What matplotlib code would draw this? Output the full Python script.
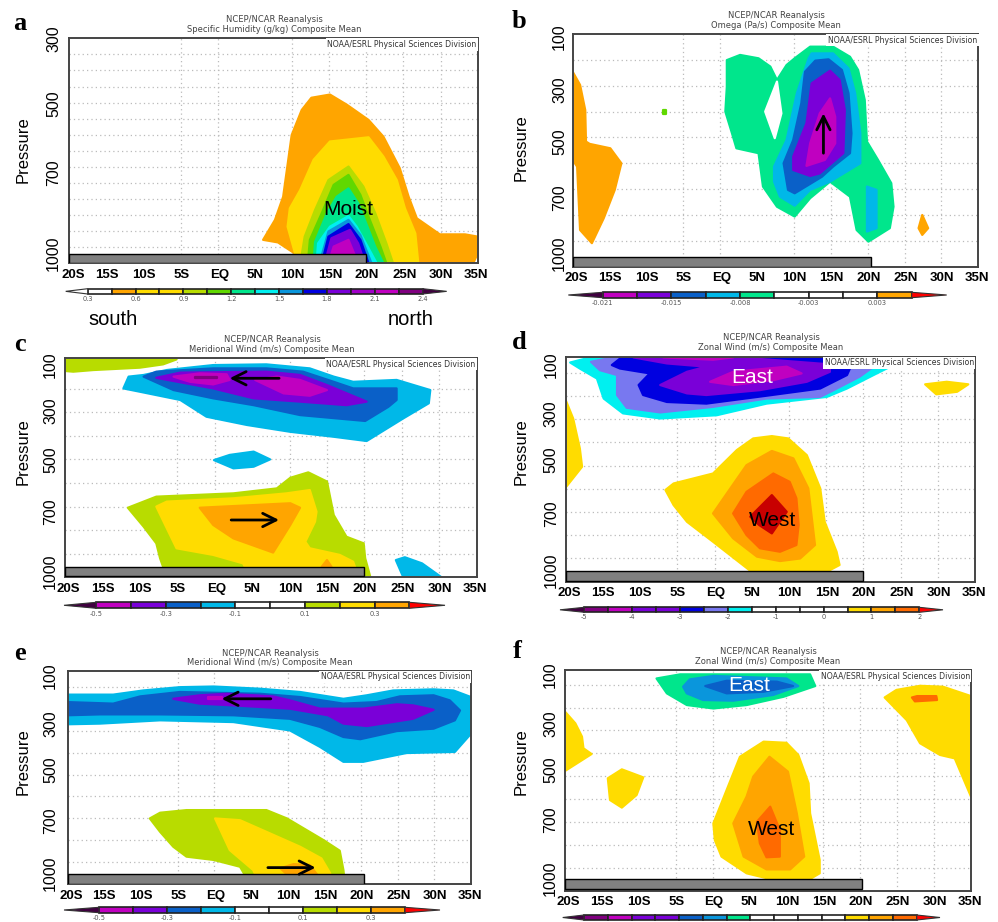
import numpy as np
import matplotlib
matplotlib.use('Agg')
import matplotlib.pyplot as plt

W, H = 998, 922

ORANGE = '#ffa500'
YELLOW = '#ffdc00'
YGREEN = '#b8dc00'
GREEN = '#60d800'
SPRING = '#00e68c'
CYAN = '#00f0f0'
SKY = '#00b8e8'
MIDBLUE = '#0a96dc'
DBLUE = '#0a60c8'
BLUE = '#0000e0'
PERI = '#7878f0'
PURPLE = '#7a00d8'
PURPLE2 = '#a000c8'
MAGENTA = '#c000c0'
DARKMAG = '#800080'
DORANGE = '#ff6a00'
DRED = '#c80000'
DPURPLE = '#400040'

lat_labels = ['20S', '15S', '10S', '5S', 'EQ', '5N', '10N', '15N', '20N', '25N', '30N', '35N']
lat_label_pos = [-19.5, -15, -10, -4.9, 0.2, 5, 10.1, 15.1, 20.1, 25.1, 30.1, 34.8]
lat_grid = [-15, -10, -5, 0, 5, 10, 15, 20, 25, 30]
p_labels_a = ['300', '500', '700', '1000']
p_labels = ['100', '300', '500', '700', '1000']

# contour outlines: (lat, hPa)
# panel a - specific humidity
a_orange = [(6.1,927),(7.7,865),(8.8,793),(9.95,601),(11.3,523),(12.6,485),(15.1,475),(17.4,507),(20.3,554),(22.3,606),(24.5,704),(25.7,793),(26.8,860),(29.9,910),(33.3,910),(35,917),(35,969),(34.4,1000),(10.4,1000),(10.4,970),(8.1,935)]
a_yellow = [(10.4,969),(9.4,886),(9.7,829),(11.1,772),(12.9,678),(15.1,621),(20.3,608),(22.3,668),(24.1,741),(25.2,829),(26.6,907),(27,1000),(10.4,1000)]
a_ygreen = [(11.3,974),(11.7,917),(13.1,834),(14.9,741),(17.6,699),(19.6,761),(21.2,844),(22.7,938),(23.6,1000),(11.3,1000)]
a_green = [(12.2,979),(12.4,927),(14,844),(15.6,756),(17.6,725),(19.2,787),(20.3,855),(21.9,948),(22.7,1000),(12.2,1000)]
a_spring = [(13.1,933),(14.7,844),(16,793),(17.6,767),(18.9,813),(19.8,865),(21.2,948),(22.3,1000),(12.9,1000)]
a_cyan = [(13.5,938),(15.1,886),(17.6,853),(18.7,886),(20.3,953),(21.4,1000),(13.3,1000)]
a_midblue = [(14.9,901),(17.6,865),(19.2,912),(20.7,1000),(13.7,1000)]
a_blue = [(14.9,917),(17.6,878),(19.2,927),(20.3,1000),(14,1000)]
a_purple = [(15.3,922),(17.8,896),(18.9,938),(19.8,1000),(14.4,1000)]
a_magenta = [(15.6,948),(17.6,927),(18.9,1000),(14.9,1000)]

# panel b - omega
b_orange1 = [(-20,246),(-19,297),(-18.3,394),(-18.2,516),(-17.7,525),(-14.9,542),(-13.4,600),(-14.3,703),(-15.8,813),(-17.4,909),(-19,858),(-19.4,613),(-20,587)]
b_orange2 = [(27.4,800),(28.2,851),(27.4,877),(26.9,851)]
b_dot = [(-7.7,395),(-7.3,395),(-7.3,408),(-7.7,408)]
b_spring = [(0.9,201),(2.7,181),(5.2,194),(6.8,226),(7.7,278),(9,220),(10.1,194),(12.2,149),(15.3,149),(17.6,188),(18.7,239),(19.6,355),(19.9,516),(21.4,587),(23.2,677),(23.5,768),(23,851),(20.1,903),(18.5,858),(17.6,729),(14.9,671),(12.2,735),(10.1,806),(7.7,768),(5.8,690),(5.2,561),(2.2,542),(1.6,484),(0.7,400),(0.9,304)]
b_hole = [(7.7,284),(6.1,400),(7.4,503),(8.3,407)]
b_sky = [(12,194),(12.4,175),(15.3,175),(17.4,233),(18.3,329),(19,484),(19,600),(14.9,671),(12.2,703),(10.1,764),(8.1,729),(7.3,671),(7.3,613),(9,510),(10.4,329)]
b_sky2 = [(19.9,690),(21.2,703),(21.2,851),(19.9,864)]
b_dblue = [(11.5,246),(12.9,203),(14.7,198),(16.5,239),(17.4,329),(17.8,484),(17.6,561),(15.3,613),(13.8,652),(10.1,716),(9.2,703),(8.6,600),(9.9,510),(11,368)]
b_purple = [(12.4,291),(14.9,242),(16.2,278),(16.9,394),(16.7,561),(13.5,639),(12.2,649),(9.9,626),(9.9,574),(11.7,445)]
b_magenta = [(14.9,349),(15.6,420),(15.6,523),(14.2,587),(11.7,610),(12.2,523),(13.5,407)]

# panel c - meridional wind
c_ygreen1 = [(-20,72),(-5.1,76),(-6.9,97),(-10,111),(-16.2,121),(-18.9,128),(-20,125)]
c_sky = [(-12.2,199),(-11.5,149),(-9.5,142),(-6.4,121),(-0.2,100),(6.9,97),(12.7,114),(15.9,149),(18.5,171),(24.3,163),(28.8,206),(28.6,262),(25.2,326),(20.3,422),(15.9,404),(10.1,383),(4.3,354),(-1.1,319),(-4.6,248),(-10,213)]
c_dblue = [(-9.5,149),(-7.8,128),(-0.2,114),(6.9,114),(11.8,128),(15.9,171),(18.5,199),(24.3,199),(24.3,248),(23.2,277),(20.1,337),(11.4,312),(5.2,270),(-0.2,241),(-5.5,206)]
c_purple = [(-7.8,154),(-4.6,132),(6.9,128),(11.4,142),(15,185),(20.3,255),(17.6,270),(11.4,255),(5.2,241),(-0.2,199),(-4.6,173)]
c_magenta1 = [(-5.5,149),(-2,135),(1.6,139),(2,163),(-0.2,182),(-3.3,171)]
c_magenta2 = [(5.4,163),(8.3,149),(11.4,163),(15,206),(12.7,230),(9.2,220)]
c_dark = [(-2.6,149),(0.3,149),(0.3,156),(-2.6,156)]
c_sky2 = [(-0.1,503),(2,481),(5.2,467),(7.4,500),(5.2,531),(2.5,538)]
c_sky3 = [(24.2,927),(25.4,915),(27.7,941),(30.3,1000),(25.2,1000)]
c_ygreen2 = [(-11.6,705),(-7.8,658),(2.5,644),(8.3,623),(10.1,578),(12.5,555),(15,594),(15.9,736),(17.6,828),(19.9,856),(20.1,919),(20.8,1000),(-6.4,1000),(-7.3,919),(-7.8,856),(-9.5,785)]
c_yellow = [(-7.8,700),(-6.4,679),(2.5,665),(9.6,644),(12.7,630),(13.6,722),(13.4,764),(12.1,849),(12.7,877),(16.7,905),(18.5,934),(19.2,1000),(4.7,1000),(3.8,941),(-0.2,905),(-5.1,877),(-6.4,792)]
c_orange = [(-2,705),(10.1,686),(11.4,705),(10.1,778),(7.8,895),(2.5,835),(-0.2,778)]
c_orange2 = [(14.3,955),(15,927),(15.6,955)]

# panel d - zonal wind
d_yellow1 = [(-20,218),(-19,297),(-18.1,426),(-17.8,505),(-20,594)]
d_yellow2 = [(28.3,150),(31.2,139),(34.1,150),(32.6,182),(29.8,193)]
d_cyan = [(-19.4,56),(-16.7,34),(24.7,34),(24.5,60),(21.8,103),(17.8,168),(15.1,204),(7,233),(0.3,283),(-7.3,297),(-12.3,275),(-14.9,211),(-15.8,125),(-18.1,82)]
d_peri = [(-16.6,53),(-13.6,34),(20.7,34),(21.8,64),(19.5,117),(16,175),(14.2,204),(7,211),(-0.2,247),(-7.3,271),(-11.8,251),(-13.1,196),(-13.1,110),(-15.4,89)]
d_blue = [(-13.8,67),(-12.5,34),(18,34),(18.4,67),(17.8,110),(14.2,168),(7,199),(-1.1,233),(-6.4,226),(-9.6,196),(-10.2,153),(-8.7,103),(-12.7,82)]
d_purple = [(-10.9,34),(3.4,34),(15.5,64),(15.5,96),(12.4,139),(6.1,175),(-1.1,196),(-3.7,189),(-7.3,153),(-3.7,96),(-1.1,74),(-6.4,60)]
d_magenta1 = [(-6.9,34),(2.5,34),(-0.2,44)]
d_magenta2 = [(-0.6,139),(2.5,96),(9.7,74),(11.7,103),(7.9,132),(2.5,153)]
d_yellow3 = [(-6.6,605),(-5.5,577),(-0.2,534),(3,433),(5.2,383),(7.7,373),(9.9,383),(12.4,455),(14.2,598),(14.8,742),(16.4,871),(16.8,928),(15.1,957),(4.8,953),(-0.2,828),(-3.7,742),(-5.5,670)]
d_orange = [(-0.2,706),(1.2,641),(4.3,498),(7.7,437),(10.6,469),(12.6,598),(13.5,842),(11.5,900),(8.8,911),(5.7,892),(2.5,813)]
d_dorange = [(2.5,706),(4.3,613),(7.9,534),(10.1,570),(11,641),(11.3,756),(11,842),(8.8,871),(6.1,856),(4.3,799)]
d_dred = [(4.8,720),(7.7,627),(9.7,699),(7.7,792),(6,756)]

# panel e - meridional wind
e_sky = [(-20,136),(-13.8,136),(-9.7,117),(-4.7,102),(-0.1,99),(6.2,109),(11.7,124),(17.6,155),(20.8,139),(24.4,117),(29.9,112),(32.6,117),(35,147),(35,314),(32.8,397),(26.2,402),(20.3,442),(17.6,442),(14.4,374),(10.3,299),(2.6,261),(-7.4,253),(-15.6,268),(-20,271)]
e_dblue = [(-20,170),(-13.8,177),(-10.1,144),(-4.7,124),(6.2,132),(11.7,147),(17.6,177),(22.1,170),(25.3,144),(29.9,139),(32.1,162),(33.5,208),(32.8,253),(29.9,291),(24.9,302),(19.9,339),(17.6,329),(14.4,283),(10.3,246),(2.6,230),(-7.4,226),(-15.6,226),(-20,230)]
e_purple = [(-5.6,155),(-2,139),(1.7,132),(8,144),(10.3,162),(14.4,200),(20.3,200),(24.9,180),(27.1,185),(29.9,205),(27.1,246),(20.8,279),(17.6,268),(15.5,230),(10.3,200),(2.6,185),(-2,177)]
e_magenta = [(-0.8,146),(1,146),(1,154),(-0.8,154)]
e_ygreen = [(-8.8,700),(-7.4,674),(-3.8,662),(7.1,662),(9.9,700),(14.9,799),(17.1,847),(17.6,935),(17.8,1000),(4.9,1000),(3.5,920),(-0.1,889),(-3.8,874),(-5.6,829),(-7.4,761)]
e_yellow = [(0.1,700),(3.5,708),(7.1,761),(11.7,829),(14.6,882),(15.8,950),(15.8,1000),(6.2,1000),(5.3,935),(2.1,844)]
e_orange = [(9,927),(10.8,908),(13,912),(14,955),(9.9,955)]

# panel f - zonal wind
f_yellow1 = [(-20,218),(-18.6,269),(-17.7,327),(-17.5,378),(-16.4,403),(-20,477)]
f_yellow2 = [(-14.2,509),(-12.3,470),(-9.4,505),(-10.3,582),(-12.3,637),(-13.9,604)]
f_yellow3 = [(23.3,156),(24.9,123),(28.1,105),(31.2,109),(35,150),(35,589),(32.8,422),(30.8,407),(28.1,356),(26.3,255)]
f_orange1 = [(27,156),(27.7,150),(30.3,150),(30.4,167),(27.4,173)]
f_spring = [(-7.6,73),(-4.4,55),(13.2,55),(13.9,106),(9.6,153),(4.6,189),(0.1,204),(-3.5,189),(-6.2,138)]
f_midblue = [(-4,109),(-3.1,77),(0.1,62),(10,73),(11.6,106),(8.2,145),(2.8,170),(-1.3,167),(-3.5,138)]
f_dblue = [(-1,106),(1.9,83),(8.7,87),(10.9,106),(6.9,131),(1.9,138)]
f_yellow4 = [(0.1,706),(1.9,560),(3.7,415),(6.9,349),(10,354),(11.6,407),(13,531),(13.2,662),(14.5,866),(14.5,924),(13.2,949),(7.8,949),(4.6,924),(1.2,851),(0.3,779)]
f_orange2 = [(2.8,706),(4.6,589),(5.5,502),(7.7,415),(10.2,480),(11.4,662),(12.4,851),(10.5,907),(7.3,907),(4.2,851)]
f_dorange = [(6,699),(7.8,633),(9.1,735),(9.1,851),(7.3,854),(6.4,793)]

fig = plt.figure(figsize=(W / 100, H / 100), dpi=100, facecolor='white')


def px_axes(x0, x1, y0, y1):
    return fig.add_axes([x0 / W, 1 - y1 / H, (x1 - x0) / W, (y1 - y0) / H])


def ftext(x, y, s, **kw):
    fig.text(x / W, 1 - y / H, s, ha='center', va='center', **kw)


def panel(box, ptop, grid_p, ylab, ylab_pos, pad, bands, bar):
    ax = px_axes(*box)
    ax.set_xlim(-20, 35)
    ax.set_ylim(1000, ptop)
    ax.set_axisbelow(True)
    ax.set_xticks(lat_label_pos, lat_labels, fontweight='bold', fontsize=9.5, family='Liberation Sans')
    ax.set_yticks(ylab_pos, ylab, rotation=90, va='center', fontsize=11.5, family='Liberation Sans')
    ax.set_xticks(lat_grid, minor=True)
    ax.set_yticks(grid_p, minor=True)
    ax.tick_params(which='both', length=0)
    ax.tick_params(axis='x', which='major', pad=4)
    ax.tick_params(axis='y', which='major', pad=pad)
    ax.grid(which='minor', ls=(0, (1, 2.5)), color='#bbbbbb', lw=0.9)
    for s in ax.spines.values():
        s.set_color('#444444')
        s.set_linewidth(1.4)
    for pts, col in bands:
        pts = np.array(pts)
        # round joins soften the corners of the outlines
        ax.fill(pts[:, 0], pts[:, 1], facecolor=col, edgecolor=col, lw=1.6, joinstyle='round', zorder=2)
    ax.fill([-20, bar[0], bar[0], -20], [bar[1], bar[1], bar[2], bar[2]],
            facecolor='#808080', edgecolor='black', lw=1, zorder=3)
    ax.text(0.997, 0.993, 'NOAA/ESRL Physical Sciences Division', transform=ax.transAxes,
            ha='right', va='top', fontsize=5.6, color='#333333', zorder=6,
            bbox=dict(facecolor='white', edgecolor='none', pad=1.2))
    return ax


def arrow(ax, x0, y0, x1, y1):
    ax.annotate('', xy=(x1, y1), xytext=(x0, y0), zorder=7,
                arrowprops=dict(arrowstyle='->', color='black', lw=2, mutation_scale=24,
                                shrinkA=0, shrinkB=0))


def cbar(tips, cells, ys, colors, lcol, rcol, labels):
    n = len(colors)
    cw = (cells[1] - cells[0]) / n
    ax = px_axes(tips[0], tips[1], ys[0], ys[1])
    left = -(cells[0] - tips[0]) / cw
    right = n + (tips[1] - cells[1]) / cw
    ax.set_xlim(left, right)
    ax.set_ylim(0, 1)
    ax.axis('off')
    ax.bar(np.arange(n) + 0.5, 1, width=1, bottom=0, color=colors, edgecolor='#222222', lw=1.2, clip_on=False)
    ax.fill([0, 0, left], [0, 1, 0.5], facecolor=lcol, edgecolor='#333333', lw=0.8, clip_on=False)
    ax.fill([n, n, right], [0, 1, 0.5], facecolor=rcol, edgecolor='#333333', lw=0.8, clip_on=False)
    for i, lab in enumerate(labels):
        ax.text(i * 2, -0.95, lab, ha='center', va='center', fontsize=4.8, color='#555555', clip_on=False)


def titles(cx, y1, y2, name):
    ftext(cx, y1, 'NCEP/NCAR Reanalysis', fontsize=6, color='#444444')
    ftext(cx, y2, name, fontsize=6, color='#444444')


def big(ax, lat, p, s, col='black'):
    ax.text(lat, p, s, ha='center', va='center', fontsize=15, color=col, family='Liberation Sans', zorder=7)


# a
ax = panel((69.3, 477.7, 38.3, 263.3), 300, list(range(350, 1000, 50)), p_labels_a, [300, 504, 717, 969], 6,
           [(a_orange, ORANGE), (a_yellow, YELLOW), (a_ygreen, YGREEN), (a_green, GREEN), (a_spring, SPRING),
            (a_cyan, CYAN), (a_midblue, MIDBLUE), (a_blue, BLUE), (a_purple, PURPLE), (a_magenta, MAGENTA)],
           (20, 971, 1000))
big(ax, 17.5, 832, 'Moist')

# b
ax = panel((572.7, 978.3, 34, 266.7), 100, list(range(200, 1000, 100)), p_labels, [110, 317, 516, 735, 948], 4,
           [(b_orange1, ORANGE), (b_orange2, ORANGE), (b_dot, GREEN), (b_spring, SPRING), (b_hole, 'white'),
            (b_sky, SKY), (b_sky2, SKY), (b_dblue, DBLUE), (b_purple, PURPLE), (b_magenta, MAGENTA)],
           (20.4, 961, 1000))
arrow(ax, 14, 561, 14, 407)

# c
ax = panel((65, 476.7, 358, 577.3), 70, list(range(100, 1000, 100)), p_labels, [100, 295, 503, 722, 976], 5,
           [(c_ygreen1, YGREEN), (c_sky, SKY), (c_dblue, DBLUE), (c_purple, PURPLE), (c_magenta1, MAGENTA),
            (c_magenta2, MAGENTA), (c_dark, DARKMAG), (c_sky2, SKY), (c_sky3, SKY), (c_ygreen2, YGREEN),
            (c_yellow, YELLOW), (c_orange, ORANGE), (c_orange2, ORANGE)],
           (20, 955, 993))
arrow(ax, 8.6, 156, 2, 156)
arrow(ax, 2.2, 757, 8.6, 757)

# d
ax = panel((565.7, 975, 356.7, 581.7), 31, list(range(100, 1000, 100)), p_labels, [67, 275, 476, 706, 950], 5,
           [(d_yellow1, YELLOW), (d_yellow2, YELLOW), (d_cyan, CYAN), (d_peri, PERI), (d_blue, BLUE),
            (d_purple, PURPLE), (d_magenta1, MAGENTA), (d_magenta2, MAGENTA), (d_yellow3, YELLOW),
            (d_orange, ORANGE), (d_dorange, DORANGE), (d_dred, DRED)],
           (19.9, 954, 996))
big(ax, 5, 120, 'East', 'white')
big(ax, 7.8, 735, 'West')

# e
ax = panel((67.7, 471, 670.7, 884.3), 27, list(range(100, 1000, 100)), p_labels, [49, 268, 480, 708, 950], 7,
           [(e_sky, SKY), (e_dblue, DBLUE), (e_purple, PURPLE), (e_magenta, MAGENTA), (e_ygreen, YGREEN),
            (e_yellow, YELLOW), (e_orange, ORANGE)],
           (20.4, 955, 1000))
arrow(ax, 7.7, 155, 1, 155)
arrow(ax, 7.3, 924, 13.8, 924)

# f
ax = panel((565, 971, 670, 890.7), 36, list(range(100, 1000, 100)), p_labels, [58, 269, 473, 691, 946], 5,
           [(f_yellow1, YELLOW), (f_yellow2, YELLOW), (f_yellow3, YELLOW), (f_orange1, DORANGE), (f_spring, SPRING),
            (f_midblue, MIDBLUE), (f_dblue, DBLUE), (f_yellow4, YELLOW), (f_orange2, ORANGE), (f_dorange, DORANGE)],
           (20.3, 950, 994))
big(ax, 5, 105, 'East', 'white')
big(ax, 8, 733, 'West')

titles(274, 19, 29, 'Specific Humidity (g/kg) Composite Mean')
titles(776, 15, 25, 'Omega (Pa/s) Composite Mean')
titles(272, 340, 350, 'Meridional Wind (m/s) Composite Mean')
titles(771, 338, 348, 'Zonal Wind (m/s) Composite Mean')
titles(270, 653, 662, 'Meridional Wind (m/s) Composite Mean')
titles(768, 651, 661, 'Zonal Wind (m/s) Composite Mean')

cbar((65.7, 446.7), (87.7, 422.7), (288.7, 294),
     ['white', ORANGE, YELLOW, YELLOW, YGREEN, GREEN, SPRING, CYAN, MIDBLUE, BLUE, PURPLE, PURPLE2, MAGENTA, DARKMAG],
     'white', DPURPLE, ['0.3', '0.6', '0.9', '1.2', '1.5', '1.8', '2.1', '2.4'])
cbar((568.3, 946.7), (602.7, 911.7), (292.3, 297.7),
     [MAGENTA, PURPLE, DBLUE, SKY, SPRING, 'white', 'white', 'white', ORANGE],
     DPURPLE, 'red', ['-0.021', '-0.015', '-0.008', '-0.003', '0.003'])
cbar((64, 445), (96.3, 409.3), (602.3, 608.3),
     [MAGENTA, PURPLE, DBLUE, SKY, 'white', 'white', YGREEN, YELLOW, ORANGE],
     DPURPLE, 'red', ['-0.5', '-0.3', '-0.1', '0.1', '0.3'])
cbar((560, 943), (584.3, 919.3), (607.3, 612.3),
     [DARKMAG, MAGENTA, PURPLE, PURPLE, BLUE, PERI, CYAN, 'white', 'white', 'white', 'white', YELLOW, ORANGE, DORANGE],
     DPURPLE, 'red', ['-5', '-4', '-3', '-2', '-1', '0', '1', '2'])
cbar((64, 440), (99, 405), (907.3, 912.7),
     [MAGENTA, PURPLE, DBLUE, SKY, 'white', 'white', YGREEN, YELLOW, ORANGE],
     DPURPLE, 'red', ['-0.5', '-0.3', '-0.1', '0.1', '0.3'])
cbar((562.7, 940), (584, 916.7), (915, 920),
     [DARKMAG, MAGENTA, PURPLE, PURPLE, DBLUE, MIDBLUE, SPRING, 'white', 'white', 'white', 'white', YELLOW, ORANGE, DORANGE],
     DPURPLE, 'red', [])

for x, y, s in [(20, 23, 'a'), (519, 22, 'b'), (20, 344, 'c'), (519, 342, 'd'), (20, 654, 'e'), (517, 651, 'f')]:
    ftext(x, y, s, fontsize=19, fontweight='bold', family='Liberation Serif')
for x, y in [(23, 150), (521, 148), (23, 452), (521, 452), (23, 762), (521, 762)]:
    ftext(x, y, 'Pressure', fontsize=12, rotation=90, family='Liberation Sans')
ftext(113, 319, 'south', fontsize=14.5, family='Liberation Sans')
ftext(411, 319, 'north', fontsize=14.5, family='Liberation Sans')

fig.savefig('out.png', dpi=100)
